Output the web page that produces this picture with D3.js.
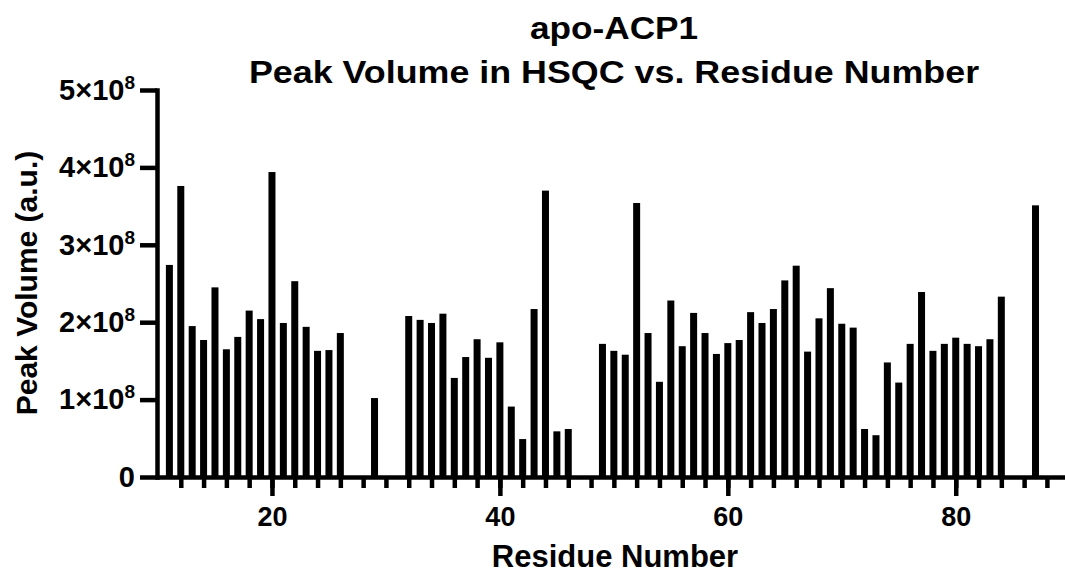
<!DOCTYPE html>
<html>
<head>
<meta charset="utf-8">
<script src="https://cdn.jsdelivr.net/npm/d3@7"></script>
<style>
  body { margin: 0; background: #fff; }
  svg { display: block; font-family: "Liberation Sans", Arial, Helvetica, sans-serif; font-weight: bold; }
</style>
</head>
<body>
<div id="chart"></div>
<script>
// residue numbers that have a peak
const residues = [
  11, 12, 13, 14, 15, 16, 17, 18, 19, 20, 21, 22, 23, 24, 25, 26,
  29,
  32, 33, 34, 35, 36, 37, 38, 39, 40, 41, 42, 43, 44, 45, 46,
  49, 50, 51, 52, 53, 54, 55, 56, 57, 58, 59, 60, 61, 62, 63, 64, 65, 66,
  67, 68, 69, 70, 71, 72, 73, 74, 75, 76, 77, 78, 79, 80, 81, 82, 83, 84,
  87
];
// peak volume (a.u.)
const volumes = [
  2.74e8, 3.76e8, 1.95e8, 1.77e8, 2.45e8, 1.65e8, 1.81e8, 2.15e8, 2.04e8, 3.94e8, 1.99e8, 2.53e8, 1.94e8, 1.63e8, 1.64e8, 1.86e8,
  1.02e8,
  2.08e8, 2.03e8, 1.99e8, 2.11e8, 1.28e8, 1.55e8, 1.78e8, 1.54e8, 1.74e8, 0.91e8, 0.49e8, 2.17e8, 3.70e8, 0.59e8, 0.62e8,
  1.72e8, 1.63e8, 1.58e8, 3.54e8, 1.86e8, 1.23e8, 2.28e8, 1.69e8, 2.12e8, 1.86e8, 1.59e8, 1.73e8, 1.77e8, 2.13e8, 1.99e8, 2.17e8, 2.54e8, 2.73e8,
  1.62e8, 2.05e8, 2.44e8, 1.98e8, 1.93e8, 0.62e8, 0.54e8, 1.48e8, 1.22e8, 1.72e8, 2.39e8, 1.63e8, 1.72e8, 1.80e8, 1.72e8, 1.69e8, 1.78e8, 2.33e8,
  3.51e8
];
const yTicks = [0, 1e8, 2e8, 3e8, 4e8, 5e8];
const xMajorTicks = [20, 40, 60, 80];
const xMinorTicks = d3.range(12, 89, 2);
const title = ["apo-ACP1", "Peak Volume in HSQC vs. Residue Number"];

let W = 1065, H = 575;
let svg = d3.select("#chart").append("svg").attr("width", W).attr("height", H);

let x = d3.scaleLinear().domain([10, 89.5]).range([158, 1064]);
let y = d3.scaleLinear().domain([0, 5e8]).range([477, 90]);
let barW = 7;
let lw = 4.5;

// bars
svg.append("g")
  .selectAll("rect")
  .data(residues.map((r, i) => ({ r: r, v: volumes[i] })))
  .enter()
  .append("rect")
  .attr("x", d => x(d.r) - barW / 2)
  .attr("width", barW)
  .attr("y", d => y(d.v))
  .attr("height", d => y(0) - y(d.v))
  .attr("fill", "#000");

// x axis: minor ticks then major ticks with labels
let gxMinor = svg.append("g")
  .attr("transform", `translate(0,${y(0)})`)
  .call(d3.axisBottom(x).tickValues(xMinorTicks).tickSize(11).tickSizeOuter(0).tickFormat(""));
let gxMajor = svg.append("g")
  .attr("transform", `translate(0,${y(0)})`)
  .call(d3.axisBottom(x).tickValues(xMajorTicks).tickSize(19).tickSizeOuter(0).tickPadding(11));
gxMajor.select(".domain").remove();

// y axis
let gy = svg.append("g")
  .attr("transform", `translate(${x(10) - 1},0)`)
  .call(d3.axisLeft(y).tickValues(yTicks).tickSize(17).tickSizeOuter(0).tickPadding(5));

[gxMinor, gxMajor, gy].forEach(g => {
  g.selectAll(".domain").attr("stroke", "#000").attr("stroke-width", lw).attr("stroke-linecap", "square");
  g.selectAll(".tick line").attr("stroke", "#000").attr("stroke-width", lw);
  g.selectAll(".tick text")
    .attr("fill", "#000")
    .style("font-family", "'Liberation Sans', Arial, Helvetica, sans-serif")
    .style("font-weight", "bold")
    .style("font-size", "27px");
});

gy.selectAll(".tick text").each(function (d) {
  let t = d3.select(this).text("").style("font-size", "29px");
  if (d === 0) { t.text("0"); return; }
  t.append("tspan").text(`${d / 1e8}×10`);
  t.append("tspan").text("8").attr("dy", "-11").style("font-size", "19px");
});

// titles
let cx = 614;
svg.append("text")
  .attr("transform", `translate(${cx},39) scale(1.1,1)`)
  .attr("text-anchor", "middle")
  .style("font-size", "32px")
  .text(title[0]);
svg.append("text")
  .attr("transform", `translate(${cx},83) scale(1.12,1)`)
  .attr("text-anchor", "middle")
  .style("font-size", "32px")
  .text(title[1]);

// axis titles
svg.append("text")
  .attr("x", 615).attr("y", 567)
  .attr("text-anchor", "middle")
  .style("font-size", "31px")
  .text("Residue Number");
svg.append("text")
  .attr("transform", `translate(37,283) rotate(-90)`)
  .attr("text-anchor", "middle")
  .style("font-size", "30px")
  .text("Peak Volume (a.u.)");
</script>
</body>
</html>
